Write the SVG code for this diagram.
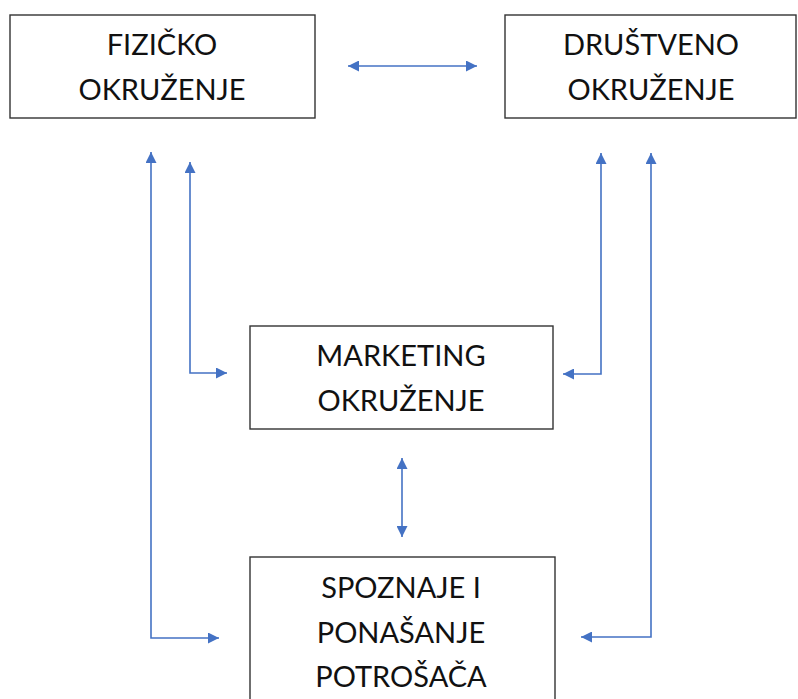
<svg xmlns="http://www.w3.org/2000/svg" width="798" height="699" viewBox="0 0 798 699">
<style>
.box{fill:#fff;stroke:#333;stroke-width:1.4}
.t{font-family:Lato,"Liberation Sans",sans-serif;font-size:29px;fill:#111;text-anchor:middle}
.c{fill:none;stroke:#4472C4;stroke-width:1.6}
</style>
<defs>
<marker id="ah" viewBox="0 0 10 10" refX="10" refY="5" markerWidth="11" markerHeight="11" markerUnits="userSpaceOnUse" orient="auto-start-reverse">
<path d="M0,0 L10,5 L0,10 z" fill="#4472C4"/>
</marker>
</defs>
<g id="fizicko">
<rect class="box" x="10" y="15" width="305" height="103"/>
<text class="t" x="162" y="55">FIZIČKO</text>
<text class="t" x="162" y="100">OKRUŽENJE</text>
</g>
<g id="drustveno">
<rect class="box" x="505" y="15" width="291" height="103"/>
<text class="t" x="651" y="55">DRUŠTVENO</text>
<text class="t" x="651" y="100">OKRUŽENJE</text>
</g>
<g id="marketing">
<rect class="box" x="250" y="326" width="303" height="103"/>
<text class="t" x="401" y="366">MARKETING</text>
<text class="t" x="401" y="411">OKRUŽENJE</text>
</g>
<g id="spoznaje">
<rect class="box" x="250" y="557" width="305" height="150"/>
<text class="t" x="401" y="598">SPOZNAJE I</text>
<text class="t" x="401" y="643">PONAŠANJE</text>
<text class="t" x="401" y="687">POTROŠAČA</text>
</g>
<g id="connectors">
<path class="c" d="M348,66 H477" marker-start="url(#ah)" marker-end="url(#ah)"/>
<path class="c" d="M402,458 V537" marker-start="url(#ah)" marker-end="url(#ah)"/>
<path class="c" d="M151,152 V638 H219" marker-start="url(#ah)" marker-end="url(#ah)"/>
<path class="c" d="M190,162 V373 H227" marker-start="url(#ah)" marker-end="url(#ah)"/>
<path class="c" d="M601,153 V374 H563" marker-start="url(#ah)" marker-end="url(#ah)"/>
<path class="c" d="M651,153 V637 H581" marker-start="url(#ah)" marker-end="url(#ah)"/>
</g>
</svg>
